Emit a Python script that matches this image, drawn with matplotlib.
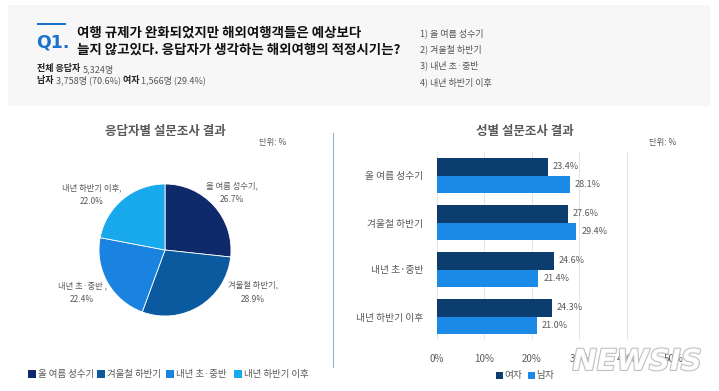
import matplotlib
matplotlib.use("Agg")
import matplotlib.pyplot as plt
from matplotlib.patches import Rectangle
import matplotlib.patheffects as pe

plt.rcParams['font.family'] = ['Noto Sans CJK KR', 'DejaVu Sans']

W, H = 719, 391

# ---- data ----
categories = ['올 여름 성수기', '겨울철 하반기', '내년 초·중반', '내년 하반기 이후']
pie_values = [26.7, 28.9, 22.4, 22.0]
pie_labels = ['올 여름 성수기,', '겨울철 하반기,', '내년 초·중반 ,', '내년 하반기 이후,']
female = [23.4, 27.6, 24.6, 24.3]
male = [28.1, 29.4, 21.4, 21.0]
xticks = [0, 10, 20, 30, 40, 50]
xtick_labels = ['0%', '10%', '20%', '30%', '40%', '50%']

pie_colors = ['#0e2a6b', '#0b5a9f', '#1a83e0', '#18a9ec']
c_female = '#0b3d6e'
c_male = '#1a8ae6'
gray = '#595959'

fig = plt.figure(figsize=(W / 100, H / 100), dpi=100)
fig.patch.set_facecolor('white')


def fx(x):
    return x / W


def fy(y):
    return 1 - y / H


def txt(x, y, s, **kw):
    kw.setdefault('va', 'center')
    return fig.text(fx(x), fy(y), s, **kw)


# ---- header panel ----
fig.patches.append(Rectangle((fx(8), fy(106)), fx(710) - fx(8), fy(5) - fy(106),
                             transform=fig.transFigure, facecolor='#f7f7f7',
                             edgecolor='none', zorder=0))
fig.patches.append(Rectangle((fx(37), fy(25)), fx(66) - fx(37), fy(23) - fy(25),
                             transform=fig.transFigure, facecolor='#1a72c9',
                             edgecolor='none', zorder=1))
txt(36, 42, 'Q1.', fontsize=12.5, fontweight='bold', color='#1a72c9', family=['DejaVu Sans'])
txt(77, 33, '여행 규제가 완화되었지만 해외여행객들은 예상보다', fontsize=9.7, fontweight='bold', color='#111111')
txt(77, 50, '늘지 않고있다. 응답자가 생각하는 해외여행의 적정시기는?', fontsize=9.7, fontweight='bold', color='#111111')
t = txt(37, 69, '전체 응답자 ', fontsize=6.5, fontweight='bold', color='#222222')
fig.canvas.draw()
r = fig.canvas.get_renderer()


def right_of(t):
    bb = t.get_window_extent(renderer=r)
    return bb.x1


x1 = right_of(t)
fig.text(x1 / W, fy(69), '5,324명', fontsize=6.5, color='#555555', va='center')
t2 = txt(37, 80, '남자 ', fontsize=6.5, fontweight='bold', color='#222222')
x2 = right_of(t2)
t3 = fig.text(x2 / W, fy(80), '3,758명 (70.6%) ', fontsize=6.5, color='#555555', va='center')
x3 = right_of(t3)
t4 = fig.text(x3 / W, fy(80), '여자 ', fontsize=6.5, fontweight='bold', color='#222222', va='center')
x4 = right_of(t4)
fig.text(x4 / W, fy(80), '1,566명 (29.4%)', fontsize=6.5, color='#555555', va='center')

for i, (yy, c) in enumerate(zip([33, 49, 65, 82], categories)):
    txt(420, yy, f'{i + 1}) {c}', fontsize=6.5, color='#555555')

# ---- pie ----
cx, cy, rr = 165, 250, 66
axp = fig.add_axes([fx(cx - rr), fy(cy + rr), 2 * rr / W, 2 * rr / H])
axp.pie(pie_values, colors=pie_colors, startangle=90, counterclock=False,
        radius=1, wedgeprops=dict(linewidth=0.6, edgecolor='white'))
axp.set_xlim(-1, 1)
axp.set_ylim(-1, 1)
axp.set_aspect('auto')
axp.axis('off')

txt(165, 132, '응답자별 설문조사 결과', fontsize=9, fontweight='bold', color=gray, ha='center')
txt(273, 142, '단위: %', fontsize=6, color=gray, ha='center')
label_pos = [(232, 186), (253, 285), (82, 286), (92, 188)]
for (lx, ly), lab, v in zip(label_pos, pie_labels, pie_values):
    txt(lx, ly, lab, fontsize=6, color=gray, ha='center')
    txt(lx, ly + 14, f'{v:.1f}%', fontsize=6, color=gray, ha='center')

# pie legend
leg_x = [32, 101, 170, 238]
for lx, c, col in zip(leg_x, categories, pie_colors):
    fig.patches.append(Rectangle((fx(lx - 4), fy(378)), 8 / W, 8 / H,
                                 transform=fig.transFigure, facecolor=col, edgecolor='none'))
    txt(lx + 6, 374, c, fontsize=6.8, color=gray)

# separator
fig.add_artist(plt.Line2D([fx(333), fx(333)], [fy(133), fy(367)], color='#8fb6d6', lw=0.8))

# ---- bar chart ----
axb = fig.add_axes([fx(437), fy(340), (674 - 437) / W, (340 - 152) / H])
n = len(categories)
ys = list(range(n))
bh = 0.365
axb.barh([y - bh / 2 for y in ys], female, height=bh, color=c_female, zorder=3)
axb.barh([y + bh / 2 for y in ys], male, height=bh, color=c_male, zorder=3)
for y, f, m in zip(ys, female, male):
    axb.text(f + 1.0, y - bh / 2, f'{f:.1f}%', fontsize=6.5, color=gray, va='center')
    axb.text(m + 1.0, y + bh / 2, f'{m:.1f}%', fontsize=6.5, color=gray, va='center')
axb.set_xlim(0, 50)
axb.set_ylim(n - 0.5, -0.5)
axb.set_xticks(xticks)
axb.set_xticklabels(xtick_labels, fontsize=7, color=gray)
axb.set_yticks(ys)
axb.set_yticklabels(categories, fontsize=7, color=gray)
axb.tick_params(length=0, pad=10)
axb.tick_params(axis='x', pad=10)
axb.grid(axis='x', color='#e6e6e6', lw=0.7, zorder=0)
for s in axb.spines.values():
    s.set_visible(False)
axb.set_facecolor('none')

txt(525, 132, '성별 설문조사 결과', fontsize=9, fontweight='bold', color=gray, ha='center')
txt(663, 142, '단위: %', fontsize=6, color=gray, ha='center')

for lx, lab, col in [(500, '여자', c_female), (532, '남자', c_male)]:
    fig.patches.append(Rectangle((fx(lx - 4), fy(379)), 7 / W, 7 / H,
                                 transform=fig.transFigure, facecolor=col, edgecolor='none'))
    txt(lx + 4, 375, lab, fontsize=7, color=gray)

# watermark (semi-transparent, as in the reference)
txt(637, 362, 'NEWSIS', fontsize=21, fontweight='bold', fontstyle='italic', color='white',
    ha='center', family=['DejaVu Sans'], alpha=0.9,
    path_effects=[pe.withStroke(linewidth=1.5, foreground='#b8b8b8')])

fig.savefig('out.png', dpi=100)
